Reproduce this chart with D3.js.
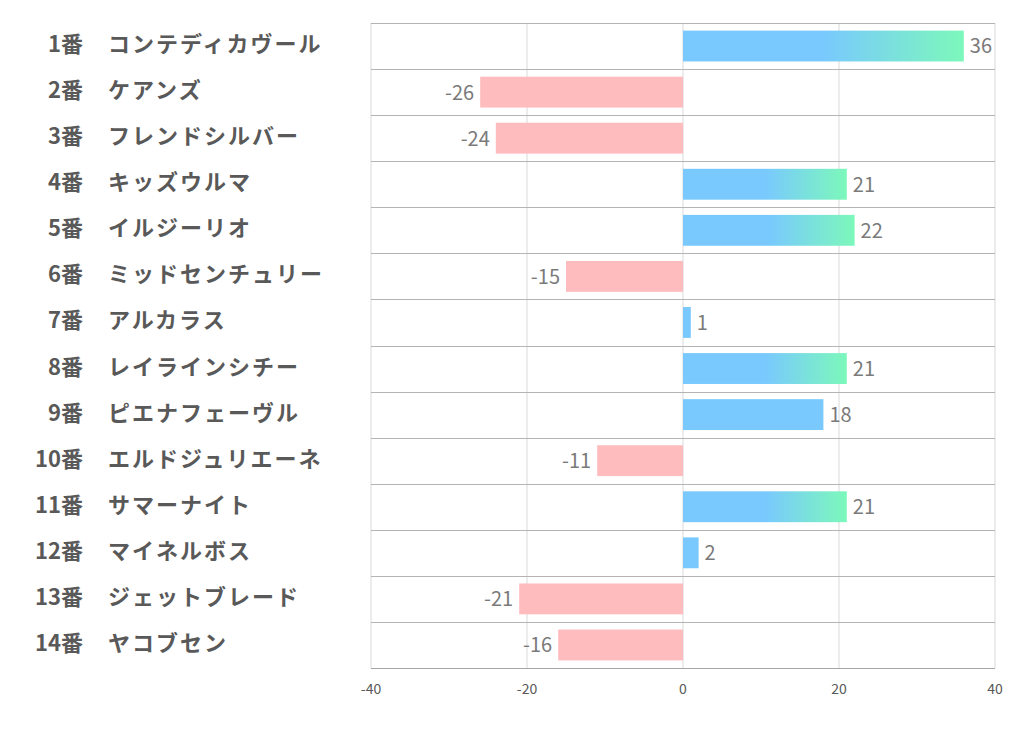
<!DOCTYPE html>
<html><head><meta charset="utf-8">
<script src="https://cdn.jsdelivr.net/npm/d3@7"></script>
<style>body{margin:0;background:#fff;font-family:"Noto Sans CJK JP","Noto Sans",sans-serif;}</style>
</head><body>
<svg id="c" width="1022" height="730"></svg>
<script>
const numbers = ["1番","2番","3番","4番","5番","6番","7番","8番","9番","10番","11番","12番","13番","14番"];
const names = ["コンテディカヴール","ケアンズ","フレンドシルバー","キッズウルマ","イルジーリオ","ミッドセンチュリー","アルカラス","レイラインシチー","ピエナフェーヴル","エルドジュリエーネ","サマーナイト","マイネルボス","ジェットブレード","ヤコブセン"];
const values = [36,-26,-24,21,22,-15,1,21,18,-11,21,2,-21,-16];
const xTicks = [-40,-20,0,20,40];
const gradientThreshold = 20;

const svg = d3.select("#c");
const L=371,R=995,T=23,B=668;
const x = d3.scaleLinear().domain([-40,40]).range([L,R]);
const y = d3.scaleBand().domain(d3.range(values.length)).range([T,B]).paddingInner(0.33).paddingOuter(0.165);
const rowY = d3.scaleBand().domain(d3.range(values.length)).range([T,B]);

const blue="#79c9fe", green="#7cf8bb", pink="#ffbcbf";
const defs = svg.append("defs");
const g = defs.append("linearGradient").attr("id","grad").attr("x1","0%").attr("x2","100%").attr("y1","0%").attr("y2","0%");
g.append("stop").attr("offset","0%").attr("stop-color",blue);
g.append("stop").attr("offset","50%").attr("stop-color",blue);
g.append("stop").attr("offset","100%").attr("stop-color",green);

// vertical gridlines
svg.append("g").selectAll("line").data(xTicks).join("line")
  .attr("x1",d=>x(d)).attr("x2",d=>x(d)).attr("y1",T).attr("y2",B)
  .attr("stroke","#d9d9d9").attr("stroke-width",1);
// horizontal row lines
svg.append("g").selectAll("line").data(d3.range(values.length)).join("line")
  .attr("x1",L).attr("x2",R)
  .attr("y1",d=>Math.round(rowY(d))+0.5).attr("y2",d=>Math.round(rowY(d))+0.5)
  .attr("stroke","#b4b4b4").attr("stroke-width",1);
// bottom axis line
svg.append("line").attr("x1",L).attr("x2",R).attr("y1",B+0.5).attr("y2",B+0.5).attr("stroke","#a6a6a6");

// bars
svg.append("g").selectAll("rect").data(values).join("rect")
  .attr("x",d=>x(Math.min(0,d))).attr("width",d=>Math.abs(x(d)-x(0)))
  .attr("y",(d,i)=>y(i)).attr("height",y.bandwidth())
  .attr("fill",d=>d<0?pink:(d>=gradientThreshold?"url(#grad)":blue));

// value labels
svg.append("g").selectAll("text").data(values).join("text")
  .attr("x",d=>d<0?x(d)-6:x(d)+6)
  .attr("y",(d,i)=>y(i)+y.bandwidth()/2+2)
  .attr("text-anchor",d=>d<0?"end":"start")
  .attr("dominant-baseline","middle")
  .attr("font-size",20).attr("fill","#7a7a7a")
  .text(d=>d);

// tick labels
svg.append("g").selectAll("text").data(xTicks).join("text")
  .attr("x",d=>x(d)).attr("y",690).attr("text-anchor","middle").attr("dominant-baseline","middle")
  .attr("font-size",14).attr("fill","#595959").text(d=>d);

// category labels
const lab = svg.append("g");
lab.selectAll("text.num").data(numbers).join("text").attr("class","num")
  .attr("x",83).attr("y",(d,i)=>rowY(i)+rowY.bandwidth()/2)
  .attr("text-anchor","end").attr("dominant-baseline","middle")
  .attr("font-size",22).attr("font-weight","bold").attr("fill","#595959").text(d=>d);
lab.selectAll("text.name").data(names).join("text").attr("class","name")
  .attr("x",108).attr("y",(d,i)=>rowY(i)+rowY.bandwidth()/2)
  .attr("text-anchor","start").attr("dominant-baseline","middle")
  .attr("letter-spacing",2)
  .attr("font-size",22).attr("font-weight","bold").attr("fill","#595959").text(d=>d);
</script>
</body></html>
